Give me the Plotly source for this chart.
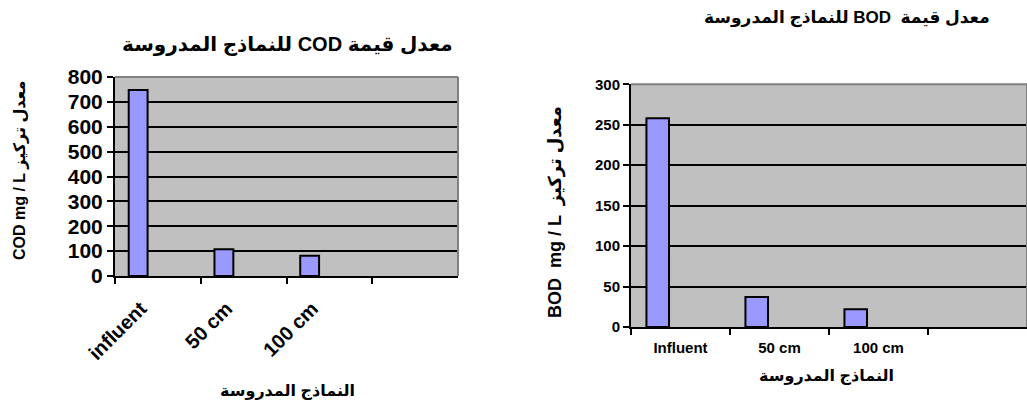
import plotly.graph_objects as go

# ---- data ----
categories_cod = ["influent", "50 cm", "100 cm"]
cod_values = [748, 108, 81]
categories_bod = ["Influent", "50 cm", "100 cm"]
bod_values = [258, 37, 22]

cod_ticks = [0, 100, 200, 300, 400, 500, 600, 700, 800]
bod_ticks = [0, 50, 100, 150, 200, 250, 300]

title_cod = "معدل قيمة COD للنماذج المدروسة"
title_bod = "معدل قيمة  BOD للنماذج المدروسة"
ylabel_cod = "COD mg / L معدل تركيز"
ylabel_bod = "BOD  mg / L  معدل تركيز"
xlabel = "النماذج المدروسة"

W, H = 1027, 410
FONT = "Liberation Sans, Arial, DejaVu Sans, sans-serif"
BAR_FILL = "#9999FF"
PLOT_BG = "#C0C0C0"

def px(x):
    return x / W

def py(y):
    return 1 - y / H

fig = go.Figure()
fig.add_trace(go.Bar(x=categories_cod, y=cod_values, xaxis="x", yaxis="y",
                     marker=dict(color=BAR_FILL, line=dict(color="black", width=2)),
                     width=0.22, offset=-0.34, hoverinfo="x+y"))
fig.add_trace(go.Bar(x=categories_bod, y=bod_values, xaxis="x2", yaxis="y2",
                     marker=dict(color=BAR_FILL, line=dict(color="black", width=2)),
                     width=0.228, offset=-0.344, hoverinfo="x+y"))

common_x = dict(type="category", range=[-0.5, 3.5], showline=True, linecolor="black",
                linewidth=2, ticks="outside", ticklen=6, tickwidth=2, tickcolor="black",
                tickson="boundaries", showgrid=False, zeroline=False, fixedrange=True,
                automargin=False)
common_y = dict(showline=True, linecolor="black", linewidth=2, ticks="outside",
                ticklen=6, tickwidth=2, tickcolor="black", showgrid=True,
                gridcolor="black", gridwidth=2, zeroline=False, fixedrange=True,
                automargin=False)

fig.update_layout(
    width=W, height=H,
    margin=dict(l=0, r=0, t=0, b=0, autoexpand=False),
    paper_bgcolor="white",
    plot_bgcolor=PLOT_BG,
    showlegend=False,
    font=dict(family=FONT, color="black"),
    xaxis=dict(common_x, domain=[px(115), px(458)], anchor="y", tickangle=-45,
               ticklabelstandoff=11, ticklabelshift=-17,
               tickfont=dict(size=20, weight="bold")),
    yaxis=dict(common_y, domain=[py(276), py(77)], anchor="x", range=[0, 800],
               tickvals=cod_ticks, tickfont=dict(size=21, weight="bold")),
    xaxis2=dict(common_x, domain=[px(631), 1.0], anchor="y2", tickangle=0,
                ticklabelstandoff=6, tickfont=dict(size=15, weight="bold")),
    yaxis2=dict(common_y, domain=[py(327), py(84.3)], anchor="x2", range=[0, 300],
                tickvals=bod_ticks, tickfont=dict(size=15, weight="bold")),
)

# gray plot-area border (top and right)
for xr, yr in (("x domain", "y domain"), ("x2 domain", "y2 domain")):
    fig.add_shape(type="line", xref=xr, yref=yr, x0=0, x1=1, y0=1, y1=1,
                  line=dict(color="#808080", width=2), layer="above")
    fig.add_shape(type="line", xref=xr, yref=yr, x0=1, x1=1, y0=0, y1=1,
                  line=dict(color="#808080", width=2), layer="above")

RLE, PDF = "\u202B", "\u202C"
ann = [
    dict(text=RLE + title_cod + PDF, x=px(287), y=py(45), size=20),
    dict(text=RLE + title_bod + PDF, x=px(847), y=py(18), size=17),
    dict(text=RLE + xlabel + PDF, x=px(287), y=py(391), size=16),
    dict(text=RLE + xlabel + PDF, x=px(826), y=py(376), size=16),
    dict(text=ylabel_cod, x=px(20), y=py(170), size=16, angle=-90),
    dict(text=ylabel_bod, x=px(555), y=py(212), size=18, angle=-90),
]
for a in ann:
    fig.add_annotation(text=a["text"], x=a["x"], y=a["y"], xref="paper", yref="paper",
                       xanchor="center", yanchor="middle", showarrow=False,
                       textangle=a.get("angle", 0),
                       font=dict(family=FONT, size=a["size"], color="black", weight="bold"))

fig.write_html("out.html")
